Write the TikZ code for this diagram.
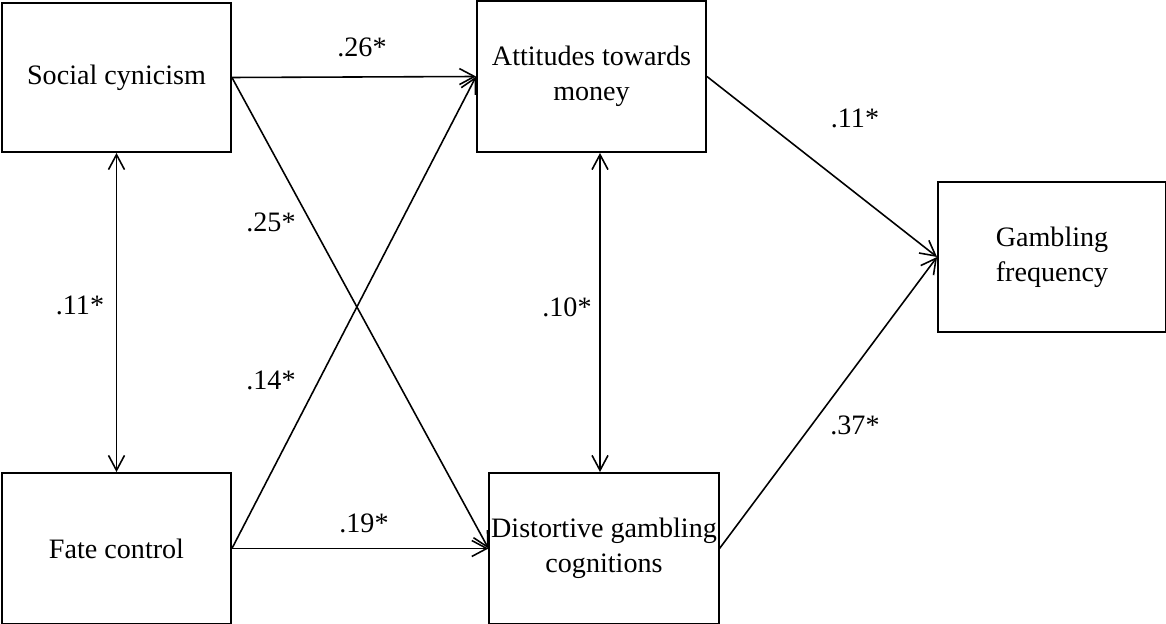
\documentclass[tikz,border=0pt]{standalone}
\usepackage{fontspec}
\setmainfont{Liberation Serif}
\usetikzlibrary{arrows.meta}

\tikzset{
  varbox/.style={draw, line width=1.1pt, rectangle, align=center, inner sep=1pt,
    font=\fontsize{16}{20}\selectfont},
  coef/.style={font=\fontsize{16}{20}\selectfont},
  path/.style={line width=0.9pt, -{Straight Barb[length=3mm,width=3.2mm]}},
  corr/.style={line width=0.9pt, {Straight Barb[length=3mm,width=3.2mm]}-{Straight Barb[length=3mm,width=3.2mm]}}
}

\begin{document}
\begin{tikzpicture}[x=0.02cm, y=-0.02cm]
      \useasboundingbox (0,0) rectangle (1166,624);
      \node[varbox, minimum width=4.58cm, minimum height=2.98cm] (sc) at (116.5,77.5) {Social cynicism};
      \node[varbox, minimum width=4.58cm, minimum height=3.02cm] (atm) at (591.5,76.5) {Attitudes towards\\money};
      \node[varbox, minimum width=4.58cm, minimum height=3.02cm] (fc) at (116.5,548.5) {Fate control};
      \node[varbox, minimum width=4.56cm, minimum height=3.02cm] (dgc) at (604,548.5) {Distortive gambling\\cognitions};
      \node[varbox, minimum width=4.56cm, minimum height=3.0cm] (gf) at (1052,257) {Gambling\\frequency};
      \begin{scope}[path]
        \draw (sc.east) to (atm.west);
        \draw (sc.east) to (dgc.west);
        \draw (fc.east) to (atm.west);
        \draw (fc.east) to (dgc.west);
        \draw (atm.east) to (gf.west);
        \draw (dgc.east) to (gf.west);
      \end{scope}
      \begin{scope}[corr]
        \draw (sc.south) to (fc.north);
        \draw ([xshift=-0.08cm]atm.south -| dgc.north) to ([xshift=-0.08cm]dgc.north);
      \end{scope}
      \node[coef] (b1) at (362,47) {.26*};
      \node[coef] (b2) at (271,222) {.25*};
      \node[coef] (b3) at (271,380) {.14*};
      \node[coef] (b4) at (364,523) {.19*};
      \node[coef] (r1) at (80,305) {.11*};
      \node[coef] (r2) at (567,307) {.10*};
      \node[coef] (b5) at (855,118) {.11*};
      \node[coef] (b6) at (855,425) {.37*};
    \end{tikzpicture}
\end{document}
